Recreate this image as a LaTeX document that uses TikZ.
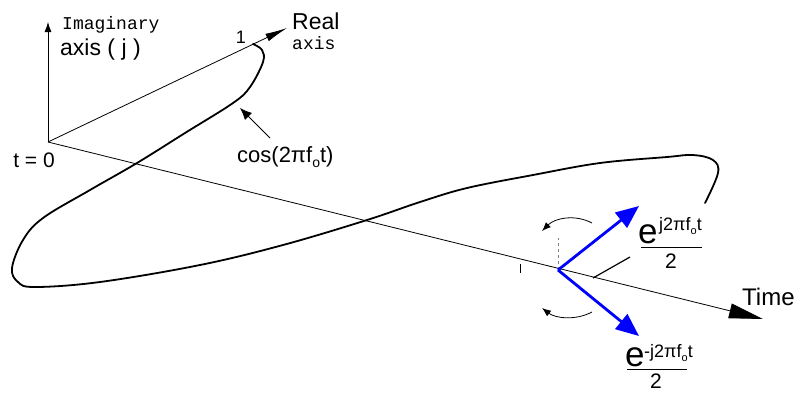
\documentclass[tikz,border=0pt]{standalone}
\usepackage{fontspec}
\setmainfont{Liberation Sans}
\setmonofont{Liberation Mono}
\usetikzlibrary{arrows.meta}
\definecolor{vblue}{RGB}{0,0,255}
\begin{document}
\begin{tikzpicture}[x=1pt,y=-1pt,
  axisline/.style={line width=0.8pt},
  curveline/.style={line width=1.8pt, line join=round, line cap=round},
  vec/.style={draw=vblue, line width=2.8pt, -{Triangle[length=23pt,width=19pt]}, fill=vblue},
  lbl/.style={inner sep=0pt, font=\fontsize{21}{21}\selectfont},
  mono/.style={inner sep=0pt, font=\ttfamily\fontsize{18}{18}\selectfont},
  supl/.style={inner sep=0pt, anchor=base west, font=\fontsize{18}{18}\selectfont},
  bige/.style={inner sep=0pt, anchor=base west, font=\fontsize{35}{35}\selectfont},
  rot/.style={line width=0.8pt, -{Latex[length=9pt,width=7pt]}},
]
\useasboundingbox (0,0) rectangle (799,392);
% axes
\coordinate (O) at (48,142);
\coordinate (Itip) at (48,22);
\coordinate (Rtip) at (287,28);
\coordinate (Ttip) at (763,319);
\draw[axisline, -{Latex[length=10pt,width=7pt]}] (O) -- (Itip);
\draw[axisline, -{Latex[length=22pt,width=8pt]}] (O) -- (Rtip);
\draw[axisline, -{Triangle[length=34pt,width=15pt]}] (O) -- (Ttip);
% curve
\draw[curveline] plot[smooth, tension=0.6] coordinates {(253,44) (262,50) (263,62) (250,87) (233,103) (185,133) (137,163) (90,190) (43,218) (23,240) (12,268) (18,282) (35,287) (100,282) (200,265) (283,245) (367,220) (420,202) (467,188) (533,175) (600,163) (667,157) (693,155) (713,160) (718,173) (705,203)};
% labels
\node[mono, anchor=west] (imag) at (62,25) {Imaginary};
\node[inner sep=0pt, anchor=west, font=\fontsize{23}{23}\selectfont] (ajx) at (60,50) {axis ( j )};
\node[inner sep=0pt, anchor=west, font=\fontsize{23}{23}\selectfont] (real) at (292,21) {Real};
\node[mono, anchor=west] (raxis) at (292,43) {axis};
\node[inner sep=0pt, font=\fontsize{18}{18}\selectfont] (one) at (241,37) {1};
\node[lbl] (t0) at (34,160) {t = 0};
\node[inner sep=0pt, anchor=west, font=\fontsize{24}{24}\selectfont] (time) at (742,297) {Time};
\node[inner sep=0pt, anchor=west, font=\fontsize{22}{22}\selectfont] (cos) at (237,157) {cos(2πf\raisebox{-5pt}{\fontsize{14}{14}\selectfont o}t)};
\coordinate (cosp) at (270,138);
\coordinate (cost) at (240,108);
\draw[line width=0.8pt, -{Latex[length=12pt,width=10pt]}] (cosp) -- (cost);
% phasors
\coordinate (P) at (558,270);
\coordinate (Pu) at (639,206);
\coordinate (Pd) at (639,336);
\coordinate (Pdash) at (558,238);
\draw[gray, dashed, line width=0.8pt] (P) -- (Pdash);
\draw[vec] (P) -- (Pu);
\draw[vec] (P) -- (Pd);
\coordinate (tk1) at (520,264);
\coordinate (tk2) at (520,273);
\draw[line width=0.6pt] (tk1) -- (tk2);
\coordinate (ld1) at (593,278);
\coordinate (ld2) at (630,257);
\draw[line width=1.2pt] (ld1) -- (ld2);
\coordinate (ru1) at (592,223);
\coordinate (ru2) at (542,231);
\draw[rot] (ru1) .. controls (575,214) and (555,218) .. (ru2);
\coordinate (rd1) at (592,312);
\coordinate (rd2) at (542,308);
\draw[rot] (rd1) .. controls (575,321) and (555,318) .. (rd2);
% upper fraction
\node[bige] (e1) at (638,243) {e};
\node[supl] (s1) at (659,230) {j2πf\raisebox{-4pt}{\fontsize{11}{11}\selectfont o}t};
\coordinate (b1l) at (641,247);
\coordinate (b1r) at (702,247);
\draw[line width=1pt] (b1l) -- (b1r);
\node[lbl] (two1) at (671,261) {2};
% lower fraction
\node[bige] (e2) at (625,366) {e};
\node[supl] (s2) at (644,357) {-j2πf\raisebox{-4pt}{\fontsize{11}{11}\selectfont o}t};
\coordinate (b2l) at (627,369);
\coordinate (b2r) at (687,369);
\draw[line width=1pt] (b2l) -- (b2r);
\node[lbl] (two2) at (656,381) {2};
\end{tikzpicture}
\end{document}
